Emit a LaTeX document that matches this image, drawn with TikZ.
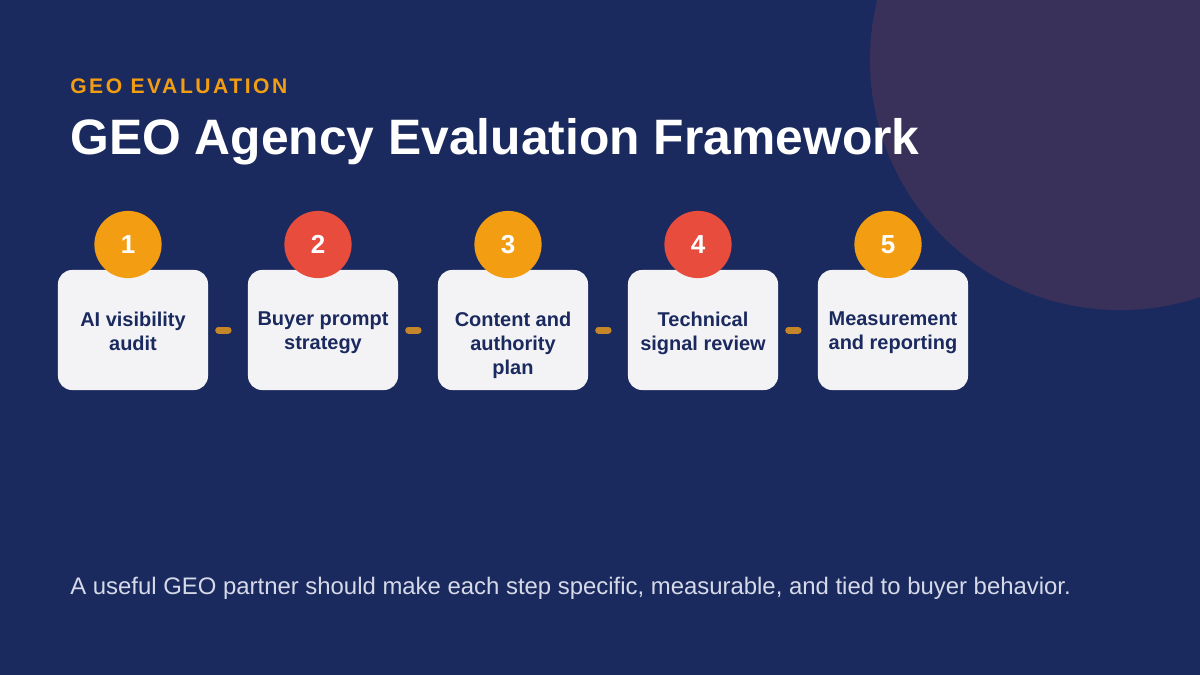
\documentclass[tikz,border=0pt]{standalone}
\usepackage{fontspec}
\setmainfont{Liberation Sans}
\newfontfamily\spacedfont[LetterSpace=12]{Liberation Sans}
\usetikzlibrary{positioning}
\definecolor{navy}{RGB}{27,42,94}
\definecolor{plum}{RGB}{57,49,89}
\definecolor{amber}{RGB}{243,158,18}
\definecolor{coral}{RGB}{231,76,60}
\definecolor{cardbg}{RGB}{243,243,246}
\definecolor{linkgold}{RGB}{196,134,40}
\definecolor{mist}{RGB}{214,218,232}

\begin{document}
\begin{tikzpicture}[
    x=0.025cm, y=-0.025cm,
    stepbox/.style={rectangle, fill=cardbg, minimum width=3.75cm, minimum height=3cm, rounded corners=0.35cm},
    steptext/.style={text=navy, font=\fontsize{14.2}{17.07}\selectfont\bfseries, align=center, inner sep=0pt},
    badge/.style={circle, minimum size=1.68cm, inner sep=0pt, text=white, font=\fontsize{18.5}{22}\selectfont\bfseries},
    link/.style={line width=0.175cm, line cap=round, linkgold, shorten <=0.26cm, shorten >=0.49cm}
  ]
    % background and corner disc
    \useasboundingbox (0,0) rectangle (1200,675);
    \fill[navy] (0,0) rectangle (1200,675);
    \begin{scope}
      \clip (0,0) rectangle (1200,675);
      \fill[plum] (1120,60) circle (6.25cm);
    \end{scope}

    % headings
    \node[anchor=base west, inner sep=0pt, text=amber, font=\fontsize{15}{18}\spacedfont\bfseries] (kicker) at (70,94) {GEO EVALUATION};
    \node[anchor=base west, inner sep=0pt, text=white, font=\fontsize{35.4}{42}\selectfont\bfseries] (title) at (70,155) {GEO Agency Evaluation Framework};

    % step cards
    \node[stepbox] (box1) at (133,330) {};
    \node[stepbox] (box2) at (323,330) {};
    \node[stepbox] (box3) at (513,330) {};
    \node[stepbox] (box4) at (703,330) {};
    \node[stepbox] (box5) at (893,330) {};

    \node[steptext, below=1.05cm of box1.north] (txt1) {AI visibility\\audit};
    \node[steptext, below=1.05cm of box2.north] (txt2) {Buyer prompt\\strategy};
    \node[steptext, below=1.05cm of box3.north] (txt3) {Content and\\authority\\plan};
    \node[steptext, below=1.05cm of box4.north] (txt4) {Technical\\signal review};
    \node[steptext, below=1.05cm of box5.north] (txt5) {Measurement\\and reporting};

    \node[badge, fill=amber] (num1) at (128,244.5) {1};
    \node[badge, fill=coral] (num2) at (318,244.5) {2};
    \node[badge, fill=amber] (num3) at (508,244.5) {3};
    \node[badge, fill=coral] (num4) at (698,244.5) {4};
    \node[badge, fill=amber] (num5) at (888,244.5) {5};

    \draw[link] (box1) -- (box2);
    \draw[link] (box2) -- (box3);
    \draw[link] (box3) -- (box4);
    \draw[link] (box4) -- (box5);

    % closing note
    \node[anchor=base west, inner sep=0pt, text=mist, font=\fontsize{17}{20}\selectfont] (note) at (70,594) {A useful GEO partner should make each step specific, measurable, and tied to buyer behavior.};
  \end{tikzpicture}
\end{document}
